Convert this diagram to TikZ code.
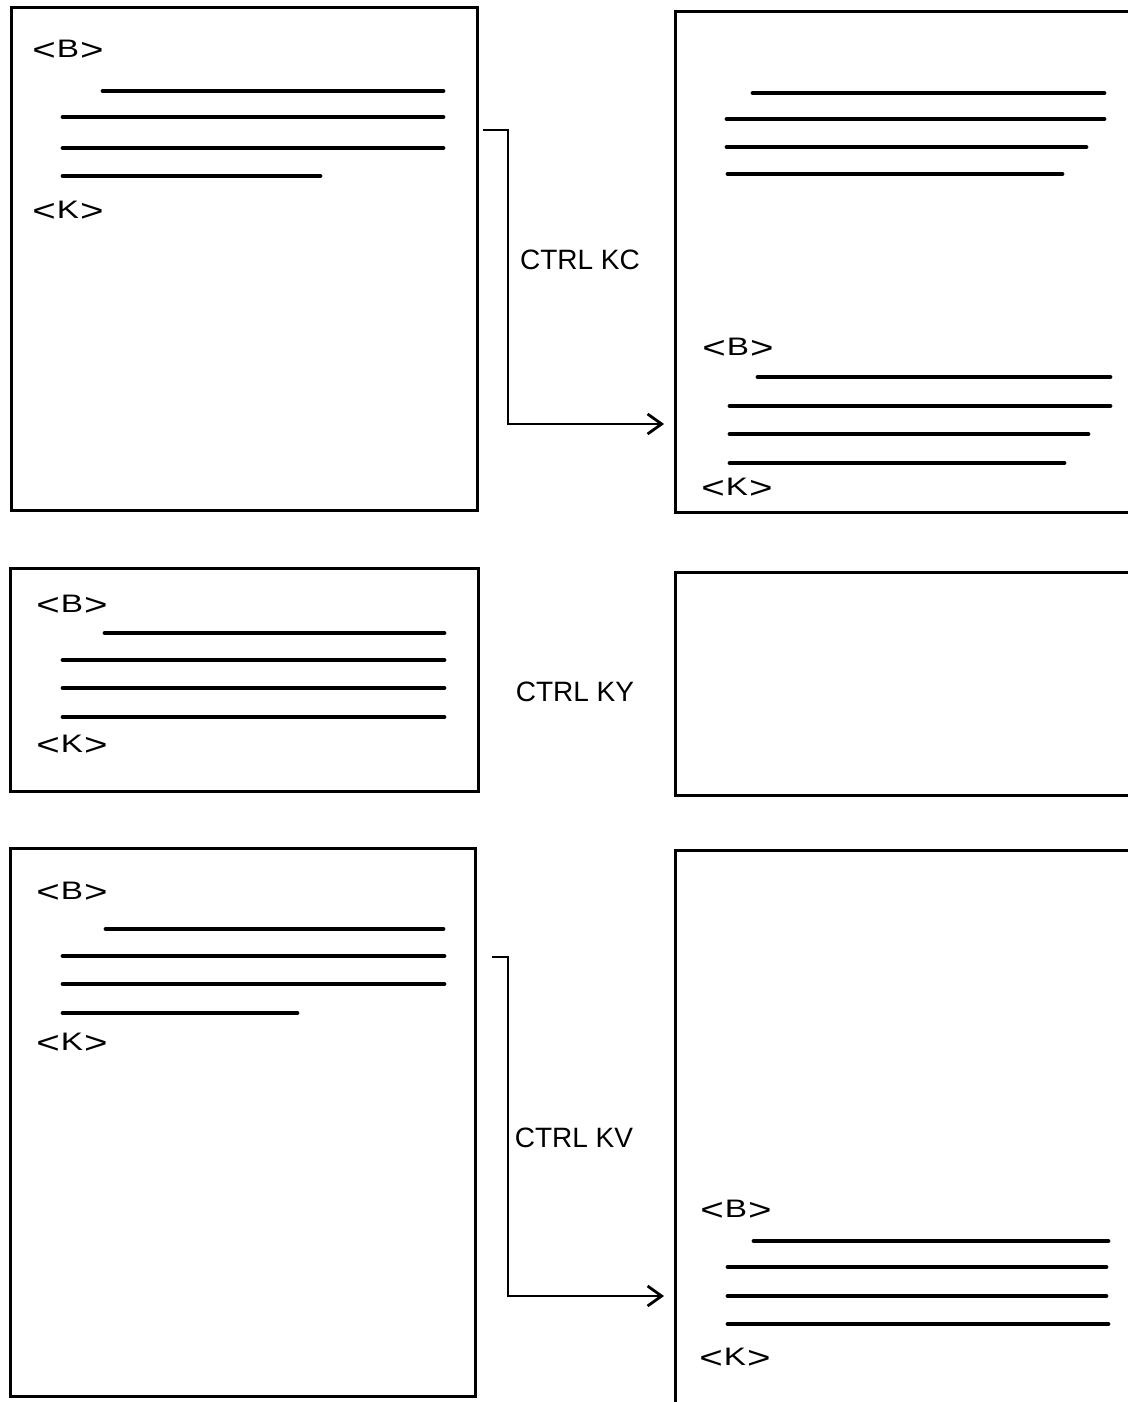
\documentclass[tikz,border=0pt]{standalone}
\usepackage{fontspec}
\setmainfont{Liberation Sans}
\usetikzlibrary{arrows.meta}
% wide chevrons around a block marker letter
\newcommand\chev[1]{\raisebox{-0.12em}{\scalebox{1.75}[1.35]{#1}}}
\newcommand\tagtext[1]{\fontsize{11.5pt}{13pt}\selectfont\chev{<}\kern0.04em\scalebox{1.45}[1.1]{#1}\kern0.04em\chev{>}}
\tikzset{
  frame/.style={line width=1.5pt, line join=miter},
  textrow/.style={line width=2.4pt, line cap=round},
  tagmark/.style={inner sep=0pt, anchor=center},
  keylabel/.style={inner sep=0pt, font=\fontsize{14pt}{16pt}\selectfont},
  flow/.style={line width=1.4pt, -{Straight Barb[length=7pt, width=10pt, line width=1.4pt]}}
}
\begin{document}
\begin{tikzpicture}[x=0.5pt, y=-0.5pt]
\path[use as bounding box] (0,0) rectangle (1128,1402);
\clip (0,0) rectangle (1128,1402);
\fill[white] (0,0) rectangle (1128,1402);

% ---------- first row: block copy ----------
\draw[frame] (11,8) rectangle (477,510);
\node[tagmark] (b1) at (68,50) {\tagtext{B}};
\draw[textrow] (103,91) -- (443,91);
\draw[textrow] (63,117) -- (443,117);
\draw[textrow] (63,148) -- (443,148);
\draw[textrow] (63,176) -- (320,176);
\node[tagmark] (k1) at (68,211) {\tagtext{K}};

\draw[frame] (1140,12) -- (675,12) -- (675,512) -- (1140,512);
\draw[textrow] (753,93) -- (1104,93);
\draw[textrow] (727,119) -- (1104,119);
\draw[textrow] (727,147) -- (1086,147);
\draw[textrow] (728,174) -- (1062,174);
\node[tagmark] (b2) at (738,348) {\tagtext{B}};
\draw[textrow] (758,377) -- (1110,377);
\draw[textrow] (730,406) -- (1110,406);
\draw[textrow] (730,434) -- (1088,434);
\draw[textrow] (730,463) -- (1064,463);
\node[tagmark] (k2) at (737,488) {\tagtext{K}};

\coordinate (kcfrom) at (483,130);
\coordinate (kcto) at (664,424);
\draw[flow] (kcfrom) -- ++(25,0) |- (kcto);
\node[keylabel] (kc) at (580,260) {CTRL KC};

% ---------- second row: block delete ----------
\draw[frame] (10,568) rectangle (478,791);
\node[tagmark] (b3) at (72,605) {\tagtext{B}};
\draw[textrow] (105,633) -- (444,633);
\draw[textrow] (63,660) -- (444,660);
\draw[textrow] (63,688) -- (444,688);
\draw[textrow] (63,717) -- (444,717);
\node[tagmark] (k3) at (72,745) {\tagtext{K}};

\draw[frame] (1140,572) -- (675,572) -- (675,795) -- (1140,795);
\node[keylabel] (ky) at (575,692) {CTRL KY};

% ---------- third row: block move ----------
\draw[frame] (10,848) rectangle (475,1396);
\node[tagmark] (b4) at (72,892) {\tagtext{B}};
\draw[textrow] (106,929) -- (443,929);
\draw[textrow] (63,956) -- (444,956);
\draw[textrow] (63,984) -- (444,984);
\draw[textrow] (63,1013) -- (297,1013);
\node[tagmark] (k4) at (72,1043) {\tagtext{K}};

\draw[frame] (1140,850) -- (675,850) -- (675,1410);
\node[tagmark] (b5) at (736,1210) {\tagtext{B}};
\draw[textrow] (754,1241) -- (1108,1241);
\draw[textrow] (728,1267) -- (1106,1267);
\draw[textrow] (728,1296) -- (1106,1296);
\draw[textrow] (728,1324) -- (1108,1324);
\node[tagmark] (k5) at (735,1358) {\tagtext{K}};

\coordinate (kvfrom) at (492,957);
\coordinate (kvto) at (664,1296);
\draw[flow] (kvfrom) -- ++(16,0) |- (kvto);
\node[keylabel] (kv) at (574,1138) {CTRL KV};
\end{tikzpicture}
\end{document}
